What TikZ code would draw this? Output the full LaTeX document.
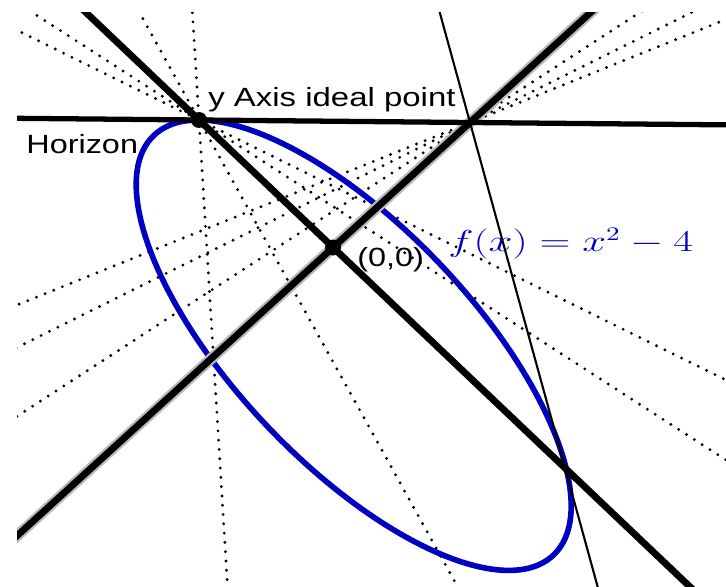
\documentclass[tikz,border=0pt]{standalone}
\usepackage{graphicx}
\usepackage{fontspec}
\newfontfamily\labfont{Liberation Sans}
\usetikzlibrary{calc}
\definecolor{curveblue}{RGB}{0,0,192}
\begin{document}
\begin{tikzpicture}[x=0.02cm,y=-0.02cm,
  dotline/.style={line width=1.8pt, dash pattern=on 0pt off 5.3pt, line cap=round},
  axisline/.style={line width=3.9pt},
  haloline/.style={line width=6.4pt, gray!55},
  thinline/.style={line width=1.2pt},
  conic/.style={line width=3.2pt, draw=curveblue},
  lab/.style={font=\labfont\fontsize{15}{18}\selectfont, inner sep=0pt, anchor=base west},
  mathlab/.style={font=\fontsize{16}{19}\selectfont, text=curveblue, inner sep=0pt, anchor=base west}
]
\useasboundingbox (0,0) rectangle (726,587);
% key points
\coordinate (Py) at (199,120);
\coordinate (Px) at (470,122.5);
\coordinate (O) at (333,247.5);
\coordinate (V) at (565,468);
\coordinate (C) at (353.7,345.2);
% pencil targets through Py
\coordinate (A1) at (227,578);
\coordinate (A2) at (455,582);
\coordinate (A3) at (726,460);
\coordinate (A4) at (726,380);
% pencil targets through Px
\coordinate (B1) at (22,303);
\coordinate (B2) at (22,345);
\coordinate (B3) at (22,413);
\begin{scope}
\clip (17,13) rectangle (726,587);
% dotted grid lines
\foreach \t in {A1,A2,A3,A4}
  \draw[dotline] ($(Py)!-2!(\t)$) -- ($(Py)!2!(\t)$);
\foreach \t in {B1,B2,B3}
  \draw[dotline] ($(Px)!-1.5!(\t)$) -- ($(Px)!1.3!(\t)$);
% conic
\draw[conic, rotate around={-46.4:(C)}] (C) ellipse [x radius=5.796cm, y radius=2.37cm];
% x axis with halo
\draw[haloline] ($(O)!-4!(Px)$) -- ($(O)!4!(Px)$);
\draw[axisline] ($(O)!-4!(Px)$) -- ($(O)!4!(Px)$);
% y axis
\draw[axisline] ($(Py)!-1!(V)$) -- ($(Py)!2!(V)$);
% horizon
\draw[line width=3pt] ($(Py)!-1!(Px)$) -- ($(Py)!3!(Px)$);
% tangent line
\draw[thinline] ($(Px)!-1!(V)$) -- ($(Px)!2!(V)$);
\end{scope}
% points
\fill (Py) circle[radius=0.16cm];
\fill (O) circle[radius=0.16cm];
% labels
\node[lab] (lyaxis) at (208,107) {\scalebox{1.25}[1]{y Axis ideal point}};
\node[lab] (lhor) at (26,154) {\scalebox{1.23}[1]{Horizon}};
\node[lab] (lorig) at (357,267) {\scalebox{1.23}[1]{(0,0)}};
\node[mathlab] (lf) at (448,252) {\scalebox{1.41}[1]{$f(x) = x^2 - 4$}};
\end{tikzpicture}
\end{document}
